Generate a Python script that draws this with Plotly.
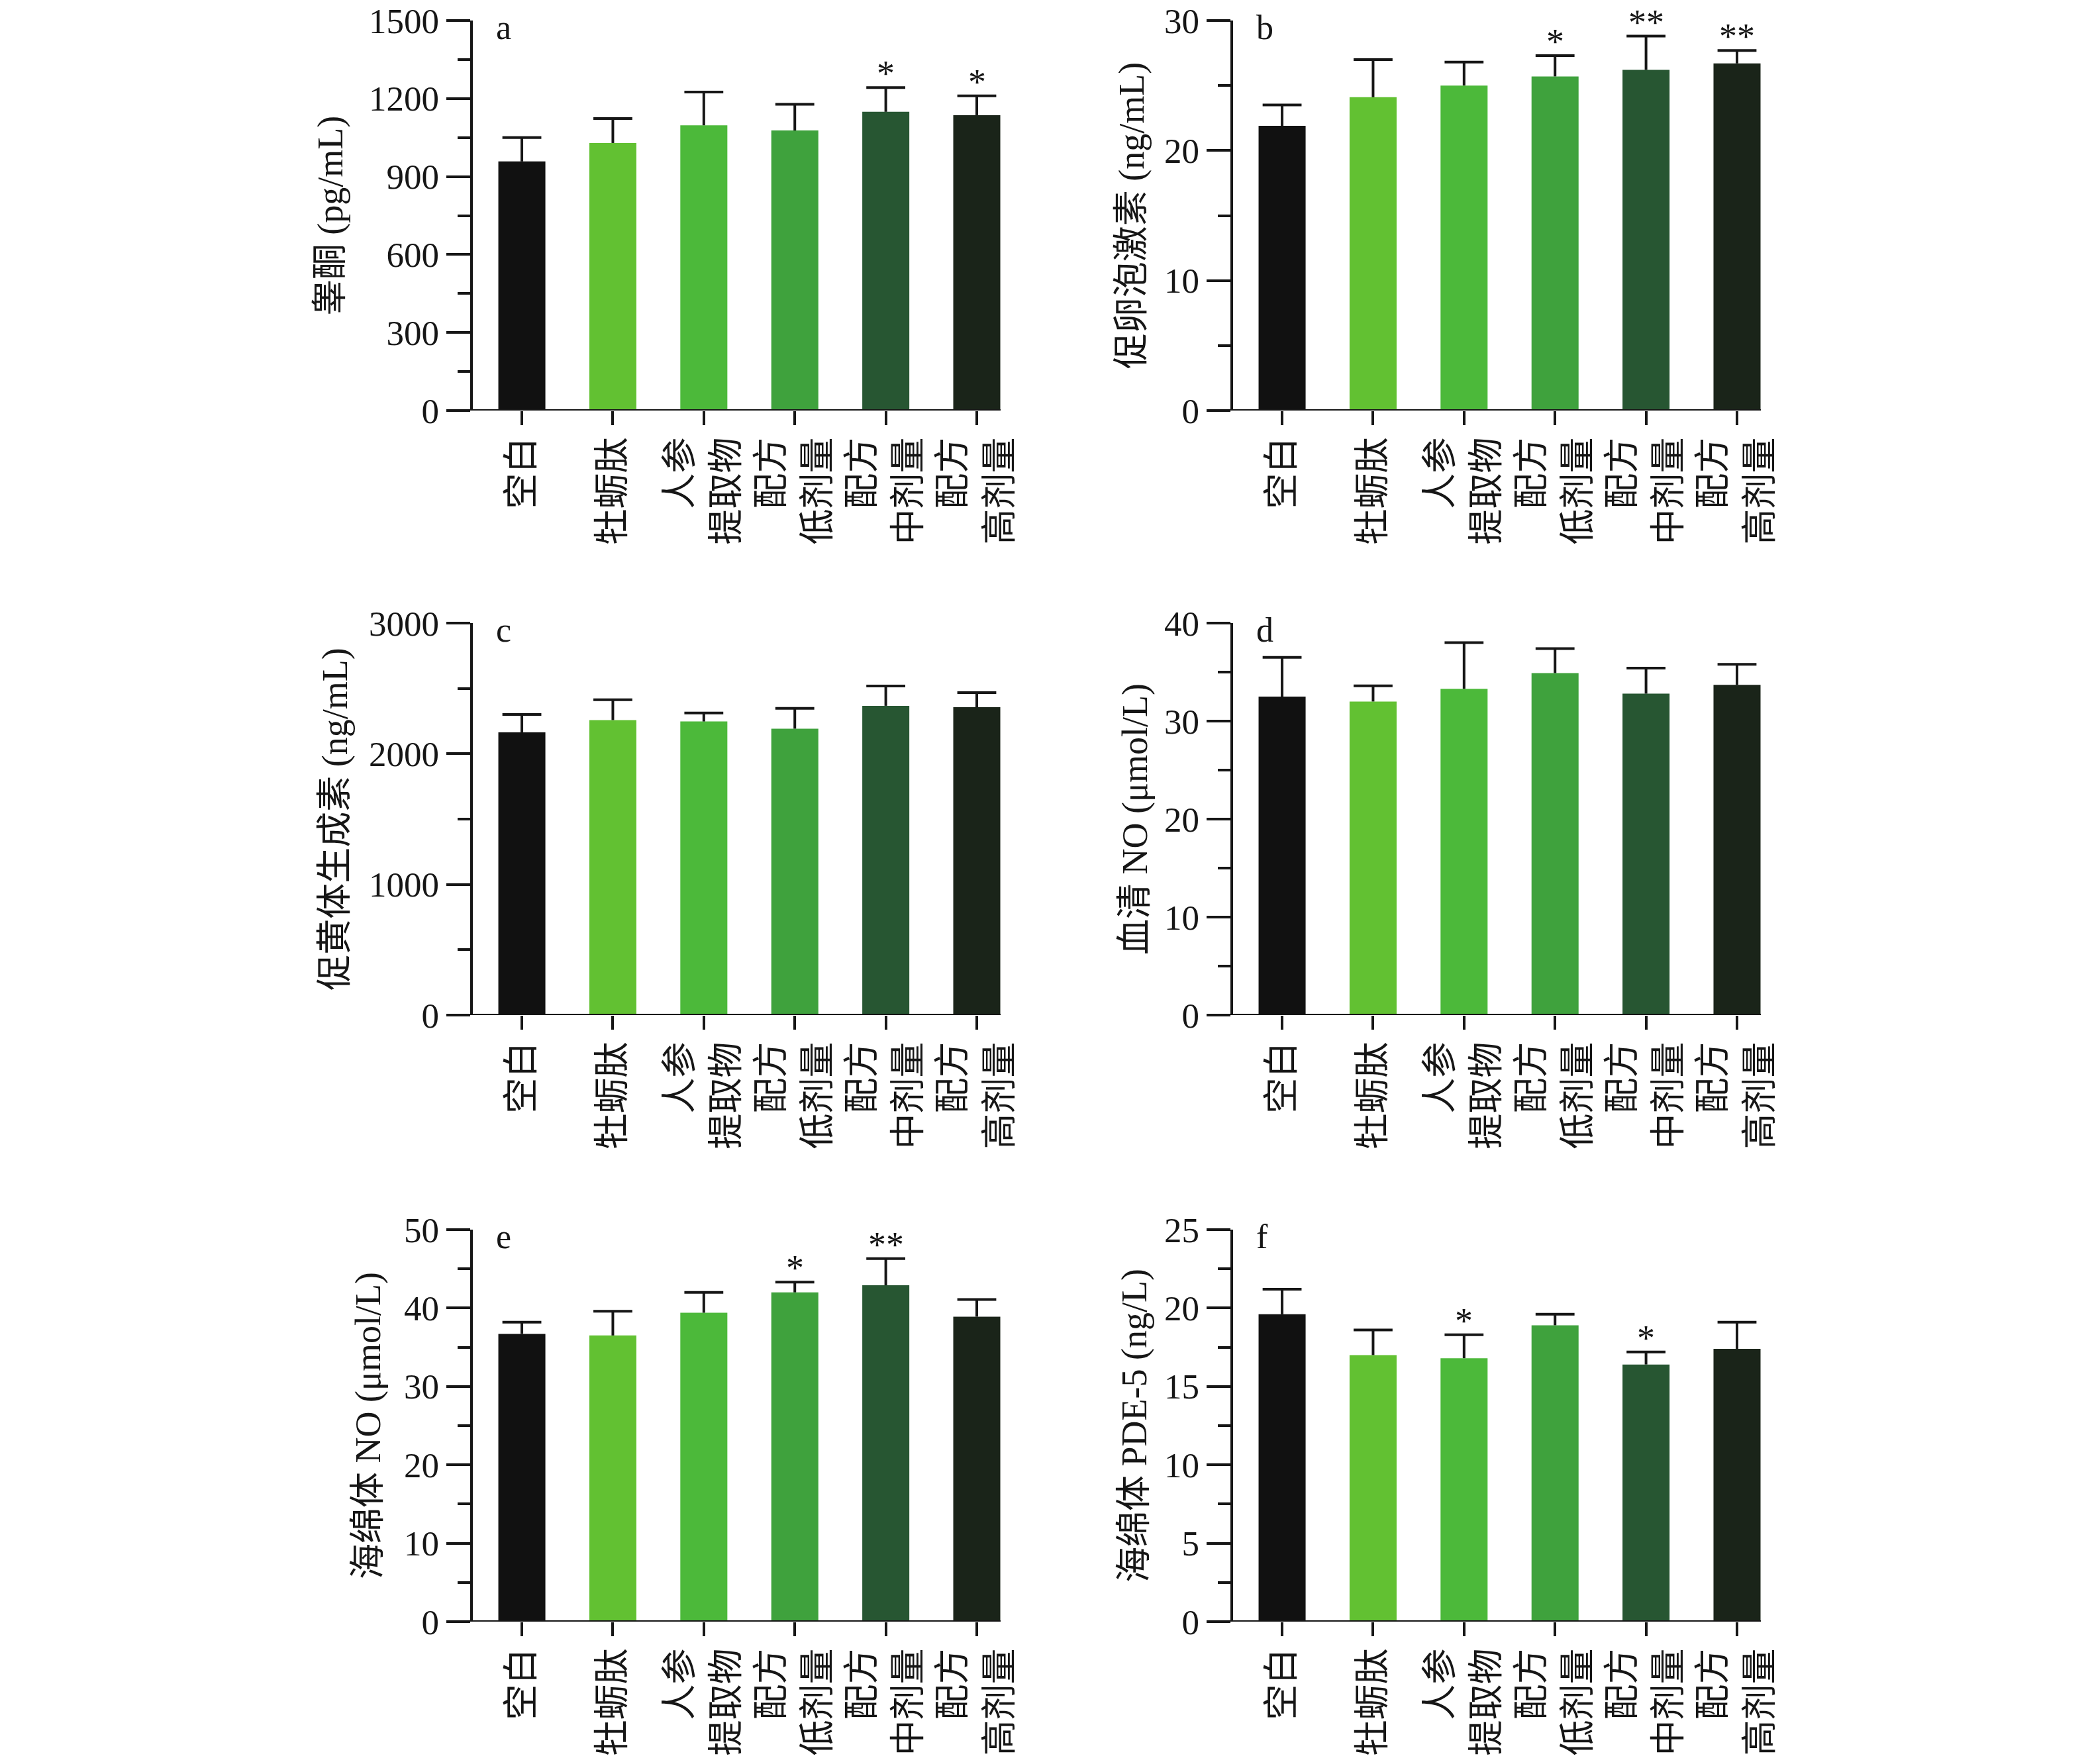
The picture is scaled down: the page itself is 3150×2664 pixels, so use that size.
import plotly.graph_objects as go

# ---------------- data ----------------
categories = ["空白", "牡蛎肽", "人参<br>提取物", "配方<br>低剂量", "配方<br>中剂量", "配方<br>高剂量"]
bar_colors = ["#111111", "#62c132", "#4cb93a", "#3fa23d", "#275632", "#1a2419"]

testosterone_mean = [958, 1029, 1097, 1077, 1149, 1136]
testosterone_sd = [92, 94, 128, 101, 93, 74]
testosterone_sig = ["", "", "", "", "*", "*"]

fsh_mean = [21.9, 24.1, 25.0, 25.7, 26.2, 26.7]
fsh_sd = [1.6, 2.9, 1.8, 1.6, 2.6, 1.0]
fsh_sig = ["", "", "", "*", "**", "**"]

lh_mean = [2164, 2258, 2247, 2192, 2367, 2356]
lh_sd = [137, 156, 65, 156, 151, 112]
lh_sig = ["", "", "", "", "", ""]

serum_no_mean = [32.5, 32.0, 33.3, 34.9, 32.8, 33.7]
serum_no_sd = [4.0, 1.6, 4.7, 2.5, 2.6, 2.1]
serum_no_sig = ["", "", "", "", "", ""]

cc_no_mean = [36.7, 36.5, 39.4, 42.0, 42.9, 38.9]
cc_no_sd = [1.5, 3.1, 2.6, 1.3, 3.4, 2.2]
cc_no_sig = ["", "", "", "*", "**", ""]

pde5_mean = [19.6, 17.0, 16.8, 18.9, 16.4, 17.4]
pde5_sd = [1.6, 1.6, 1.5, 0.7, 0.8, 1.7]
pde5_sig = ["", "", "*", "", "*", ""]

panel_letters = ["a", "b", "c", "d", "e", "f"]
panel_titles = ["睾酮 (pg/mL)", "促卵泡激素 (ng/mL)", "促黄体生成素 (ng/mL)",
                "血清 NO (μmol/L)", "海绵体 NO (μmol/L)", "海绵体 PDE-5 (ng/L)"]
y_max = [1500, 30, 3000, 40, 50, 25]
y_major = [300, 10, 1000, 10, 10, 5]
y_minor = [150, 5, 500, 5, 5, 2.5]

means = [testosterone_mean, fsh_mean, lh_mean, serum_no_mean, cc_no_mean, pde5_mean]
sds = [testosterone_sd, fsh_sd, lh_sd, serum_no_sd, cc_no_sd, pde5_sd]
sigs = [testosterone_sig, fsh_sig, lh_sig, serum_no_sig, cc_no_sig, pde5_sig]

# ---------------- layout geometry ----------------
W, H = 3150, 2664
INK = "#161616"
FONT = "Liberation Serif, 'Noto Sans CJK SC', serif"
col_px = [(714, 1511), (1862, 2659)]             # px of y-axis / right end
row_px = [(31, 620), (941, 1533), (1857, 2449)]  # px of top / zero line
title_standoff = [23, 14, 16, 9, 19, 10]
x_range = [-0.539, 5.262]
axis_ext = 36  # px that the x baseline extends left of the y axis

fig = go.Figure()
layout = dict(width=W, height=H, margin=dict(l=0, r=0, t=0, b=0, pad=0, autoexpand=False),
              paper_bgcolor="white", plot_bgcolor="white", showlegend=False,
              font=dict(family=FONT, color=INK), annotations=[], shapes=[])

for i in range(6):
    n = i + 1
    r, c = divmod(i, 2)
    xa = "x" if n == 1 else f"x{n}"
    ya = "y" if n == 1 else f"y{n}"
    m, s, sg = means[i], sds[i], sigs[i]
    tops = [a + b for a, b in zip(m, s)]

    fig.add_trace(go.Bar(x=categories, y=m, width=0.517,
                         marker=dict(color=bar_colors, line=dict(width=0)),
                         xaxis=xa, yaxis=ya, hoverinfo="skip"))
    # error stems (upper SD only)
    ex, ey = [], []
    for cat, a, t in zip(categories, m, tops):
        ex += [cat, cat, None]
        ey += [a, t, None]
    fig.add_trace(go.Scatter(x=ex, y=ey, mode="lines", line=dict(color=INK, width=4),
                             xaxis=xa, yaxis=ya, hoverinfo="skip"))
    # error caps
    fig.add_trace(go.Scatter(x=categories, y=tops, mode="markers",
                             marker=dict(symbol="line-ew", size=42,
                                         line=dict(color=INK, width=4)),
                             xaxis=xa, yaxis=ya, hoverinfo="skip"))

    x0, x1 = col_px[c]
    t0, t1 = row_px[r]
    xdom = [x0 / W, x1 / W]
    ydom = [1 - t1 / H, 1 - t0 / H]
    layout["xaxis" if n == 1 else f"xaxis{n}"] = dict(
        domain=xdom, anchor=ya, range=x_range, type="category", automargin=False,
        showline=False, showgrid=False, zeroline=False,
        ticks="outside", ticklen=21, tickwidth=4, tickcolor=INK,
        tickangle=-90, ticklabelstandoff=-3, ticklabeloverflow="allow",
        tickfont=dict(size=54, family=FONT, color=INK),
        fixedrange=True)
    layout["yaxis" if n == 1 else f"yaxis{n}"] = dict(
        domain=ydom, anchor=xa, range=[0, y_max[i]], automargin=False,
        tickmode="linear", tick0=0, dtick=y_major[i],
        showline=True, linewidth=4.5, linecolor=INK,
        showgrid=False, zeroline=False, ticklabeloverflow="allow",
        ticks="outside", ticklen=36, tickwidth=4, tickcolor=INK,
        minor=dict(tickmode="linear", tick0=0, dtick=y_minor[i], ticks="outside",
                   ticklen=19, tickwidth=4, tickcolor=INK, showgrid=False),
        tickfont=dict(size=53, family=FONT, color=INK),
        title=dict(text=panel_titles[i], font=dict(size=54, family=FONT, color=INK),
                   standoff=title_standoff[i]),
        fixedrange=True)

    # x baseline (extends left of the y axis, Prism style)
    layout["shapes"].append(dict(type="line", xref=f"{xa} domain", yref=ya,
                                 x0=-axis_ext / (x1 - x0), x1=1, y0=0, y1=0,
                                 line=dict(color=INK, width=4), layer="above"))
    # panel letter
    layout["annotations"].append(dict(text=panel_letters[i], xref=f"{xa} domain", yref=f"{ya} domain",
                                      x=33 / (x1 - x0), y=1, xanchor="left", yanchor="top", yshift=20,
                                      showarrow=False, font=dict(size=52, family=FONT, color=INK)))
    # significance marks
    for cat, t, mark in zip(categories, tops, sg):
        if mark:
            layout["annotations"].append(dict(text=mark, xref=xa, yref=ya, x=cat, y=t,
                                              xanchor="center", yanchor="bottom", yshift=-11,
                                              showarrow=False,
                                              font=dict(size=54, family=FONT, color=INK)))

fig.update_layout(**layout)
fig.write_html("out.html", config={"displayModeBar": False, "staticPlot": True},
               post_script="document.body.style.margin='0px';")
